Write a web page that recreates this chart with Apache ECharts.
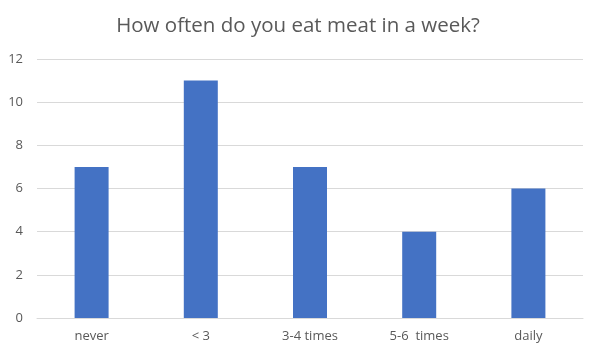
<!DOCTYPE html>
<html>
<head>
<meta charset="utf-8">
<script src="https://cdn.jsdelivr.net/npm/echarts@6/dist/echarts.min.js"></script>
<style>
html,body{margin:0;padding:0;background:#fff;}
#chart{width:596px;height:357px;}
</style>
</head>
<body>
<div id="chart"></div>
<script>
const titleText = "How often do you eat meat in a week?";
const categories = ["never", "< 3", "3-4 times", "5-6  times", "daily"];
const values = [7, 11, 7, 4, 6];
const yMin = 0, yMax = 12, yStep = 2;

const chart = echarts.init(document.getElementById('chart'));
chart.setOption({
  animation: false,
  backgroundColor: '#ffffff',
  title: {
    text: titleText,
    left: 'center',
    top: 11,
    textStyle: {
      fontFamily: 'Open Sans, Calibri, sans-serif',
      fontWeight: 'normal',
      fontSize: 20.5,
      color: '#595959'
    }
  },
  grid: { left: 37, right: 13, top: 59, bottom: 39, containLabel: false },
  xAxis: {
    type: 'category',
    data: categories,
    axisLine: { lineStyle: { color: '#d9d9d9' } },
    axisTick: { show: false },
    axisLabel: {
      color: '#595959',
      fontSize: 13,
      fontFamily: 'Open Sans, Calibri, sans-serif',
      margin: 12
    }
  },
  yAxis: {
    type: 'value',
    min: yMin, max: yMax, interval: yStep,
    axisLine: { show: false },
    axisTick: { show: false },
    splitLine: { lineStyle: { color: '#d9d9d9' } },
    axisLabel: {
      color: '#595959',
      fontSize: 13,
      fontFamily: 'Open Sans, Calibri, sans-serif',
      margin: 14
    }
  },
  series: [{
    type: 'bar',
    data: values,
    barWidth: 34,
    itemStyle: { color: '#4472C4' }
  }]
});
</script>
</body>
</html>
